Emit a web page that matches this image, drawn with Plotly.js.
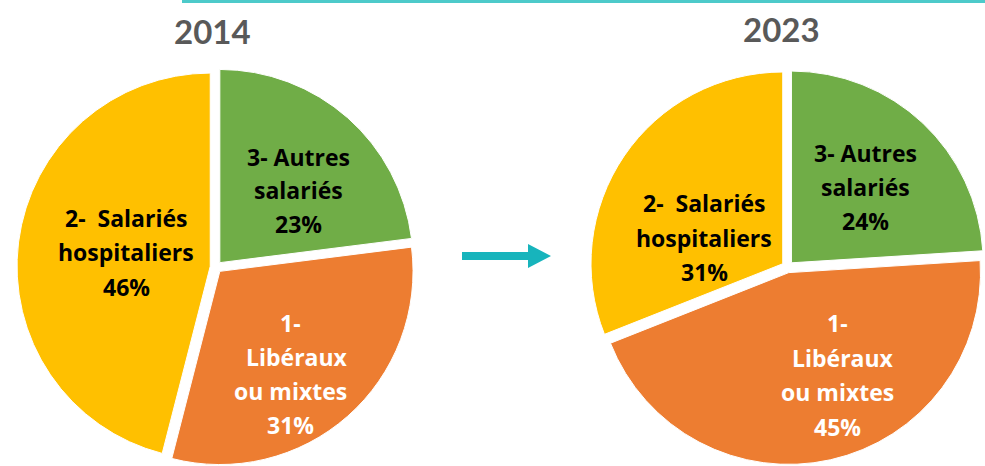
<!DOCTYPE html>
<html>
<head>
<meta charset="utf-8">
<script src="https://cdn.plot.ly/plotly-3.0.1.min.js"></script>
<style>html,body{margin:0;padding:0;background:#fff;overflow:hidden;}#chart{width:985px;height:466px;}</style>
</head>
<body>
<div id="chart"></div>
<script>
// ---- data ----
const years = ["2014", "2023"];
const categories = ["3- Autres salariés", "1- Libéraux ou mixtes", "2-  Salariés hospitaliers"];
const labelLines = [["3- Autres", "salariés"], ["1-", "Libéraux", "ou mixtes"], ["2-  Salariés", "hospitaliers"]];
const values2014 = [23, 31, 46];
const values2023 = [24, 45, 31];
const sliceColors = ["#70AD47", "#ED7D31", "#FFC000"];
const textColors = ["#000000", "#FFFFFF", "#000000"];

// ---- layout helpers ----
const W = 985, H = 466;
const px = x => x / W;
const py = y => 1 - y / H;

const domains = [
  {x: [px(17), px(415)], y: [py(466), py(68)]},
  {x: [px(590), 1], y: [py(466), py(68)]}
];

const allValues = [values2014, values2023];
const traces = allValues.map((vals, i) => ({
  type: 'pie',
  labels: categories,
  values: vals,
  sort: false,
  direction: 'clockwise',
  rotation: 0,
  pull: [0.03, 0.03, 0.03],
  marker: {colors: sliceColors, line: {color: '#FFFFFF', width: 1}},
  textinfo: 'none',
  hoverinfo: 'label+percent',
  showlegend: false,
  domain: domains[i]
}));

// label line centres (pixels) per pie, per category
const labelPos = [
  [ {x: [298, 298, 298], y: [157, 190, 224]},
    {x: [290, 297, 290, 290], y: [323, 357, 391, 425]},
    {x: [126, 126, 126], y: [218, 252, 287]} ],
  [ {x: [865, 865, 865], y: [153, 187, 221]},
    {x: [837, 843, 837, 837], y: [323, 358, 392, 427]},
    {x: [704, 704, 704], y: [203, 238, 272]} ]
];
const titlePos = [{x: 212, y: 31}, {x: 781, y: 29}];

const labelFont = "'Open Sans', Lato, sans-serif";
const annotations = [];
allValues.forEach((vals, p) => {
  annotations.push({
    xref: 'paper', yref: 'paper', x: px(titlePos[p].x), y: py(titlePos[p].y),
    xanchor: 'center', yanchor: 'middle', showarrow: false,
    text: '<b>' + years[p] + '</b>',
    font: {family: "Lato, sans-serif", size: 33, color: '#595959'}
  });
  vals.forEach((v, c) => {
    const lines = labelLines[c].concat([v + '%']);
    lines.forEach((ln, k) => {
      annotations.push({
        xref: 'paper', yref: 'paper',
        x: px(labelPos[p][c].x[k]), y: py(labelPos[p][c].y[k]),
        xanchor: 'center', yanchor: 'middle', showarrow: false,
        text: '<b>' + ln.replace(/ /g, '&nbsp;') + '</b>',
        font: {family: labelFont, size: 23, color: textColors[c]}
      });
    });
  });
});

const teal = '#17B4BC';
const shapes = [
  {type: 'line', xref: 'paper', yref: 'paper', x0: px(182), x1: 1, y0: py(1.5), y1: py(1.5),
   line: {color: '#4DCACA', width: 3}},
  {type: 'path', xref: 'paper', yref: 'paper',
   path: 'M ' + px(462) + ' ' + py(252) + ' L ' + px(528) + ' ' + py(252) + ' L ' + px(528) + ' ' + py(244) +
         ' L ' + px(551) + ' ' + py(256) + ' L ' + px(528) + ' ' + py(268) + ' L ' + px(528) + ' ' + py(260) +
         ' L ' + px(462) + ' ' + py(260) + ' Z',
   fillcolor: teal, line: {width: 0}}
];

const layout = {
  width: W, height: H,
  margin: {l: 0, r: 0, t: 0, b: 0},
  paper_bgcolor: '#FFFFFF',
  plot_bgcolor: '#FFFFFF',
  annotations: annotations,
  shapes: shapes,
  showlegend: false
};

Plotly.newPlot('chart', traces, layout, {displayModeBar: false, staticPlot: true});
</script>
</body>
</html>
